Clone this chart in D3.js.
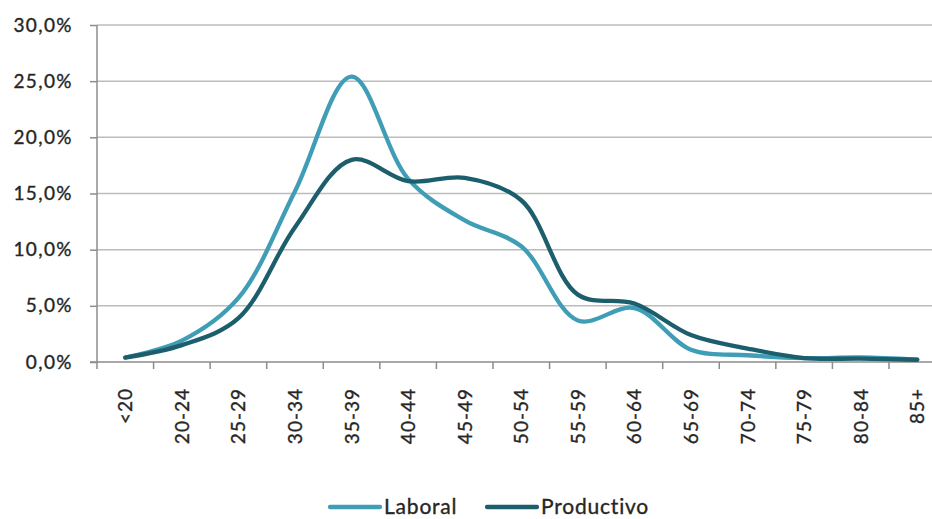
<!DOCTYPE html>
<html><head><meta charset="utf-8">
<script src="https://cdn.jsdelivr.net/npm/d3@7"></script>
<style>body{margin:0;background:#fff}svg{display:block}text{font-family:Lato,"Open Sans",sans-serif;fill:#262626;stroke:#262626;stroke-width:0.35px}</style>
</head><body><svg id="c" width="932" height="519"></svg>
<script>
const categories = ["<20","20-24","25-29","30-34","35-39","40-44","45-49","50-54","55-59","60-64","65-69","70-74","75-79","80-84","85+"];
const laboral =    [0.4, 1.9, 5.7, 15.2, 25.4, 16.3, 12.6, 10.3, 3.7, 4.8, 1.1, 0.6, 0.35, 0.4, 0.2];
const productivo = [0.4, 1.5, 3.9, 12.0, 18.0, 16.1, 16.4, 14.4, 6.0, 5.2, 2.4, 1.2, 0.35, 0.3, 0.2];
const yTicks = [0,5,10,15,20,25,30];
const seriesNames = ["Laboral","Productivo"];
const colors = ["#3f9db6","#1c5e6c"];

const svg = d3.select("#c");
const x = d3.scaleBand().domain(categories).range([97, 97 + 15*56.57]);
const y = d3.scaleLinear().domain([0,30]).range([362, 25]);
const fmt = v => d3.format(".1f")(v).replace(".", ",") + "%";

// gridlines
svg.append("g").selectAll("line").data(yTicks.filter(d=>d>0)).join("line")
  .attr("x1",97).attr("x2",932).attr("y1",d=>y(d)).attr("y2",d=>y(d))
  .attr("stroke","#bcbcbc").attr("stroke-width",1.5);

// y axis
const ya = svg.append("g").attr("transform","translate(97,0)")
  .call(d3.axisLeft(y).tickValues(yTicks).tickFormat(fmt).tickSize(7).tickPadding(17));
ya.select(".domain").attr("stroke","#8c8c8c").attr("stroke-width",1.5).attr("d","M0,"+y(30)+"V"+y(0));
ya.selectAll(".tick line").attr("stroke","#8c8c8c").attr("stroke-width",1.5);
ya.selectAll("text").attr("font-size",19).attr("letter-spacing","1.4px").attr("fill","#262626").attr("font-family","Lato");

// x axis
const xa = svg.append("g").attr("transform","translate(0,362)");
xa.append("line").attr("x1",90).attr("x2",932).attr("y1",0).attr("y2",0).attr("stroke","#8c8c8c").attr("stroke-width",1.5);
const tickPos = categories.map(c=>x(c)).concat([x(categories[14])+x.bandwidth()]);
xa.selectAll("line.t").data(tickPos).join("line").attr("class","t")
  .attr("x1",d=>d).attr("x2",d=>d).attr("y1",0).attr("y2",7).attr("stroke","#8c8c8c").attr("stroke-width",1.5);
xa.selectAll("text").data(categories).join("text")
  .attr("transform",d=>`translate(${x(d)+x.bandwidth()/2+7},26) rotate(-90)`)
  .attr("text-anchor","end").attr("font-size",19).attr("letter-spacing","1px").text(d=>d);

// lines
const line = d3.line().x((d,i)=>x(categories[i])+x.bandwidth()/2).y(d=>y(d)).curve(d3.curveCatmullRom.alpha(0.5));
[laboral, productivo].forEach((s,k)=>{
  svg.append("path").datum(s).attr("d",line).attr("fill","none")
    .attr("stroke",colors[k]).attr("stroke-width",4.3).attr("stroke-linecap","round");
});

// legend
const lg = svg.append("g");
const lx = [330, 487];
seriesNames.forEach((n,k)=>{
  lg.append("line").attr("x1",lx[k]).attr("x2",lx[k]+50).attr("y1",507).attr("y2",507)
    .attr("stroke",colors[k]).attr("stroke-width",4.3).attr("stroke-linecap","round");
  lg.append("text").attr("x",lx[k]+54).attr("y",514).attr("font-size",21).attr("letter-spacing","0.8px").text(n);
});
</script></body></html>
